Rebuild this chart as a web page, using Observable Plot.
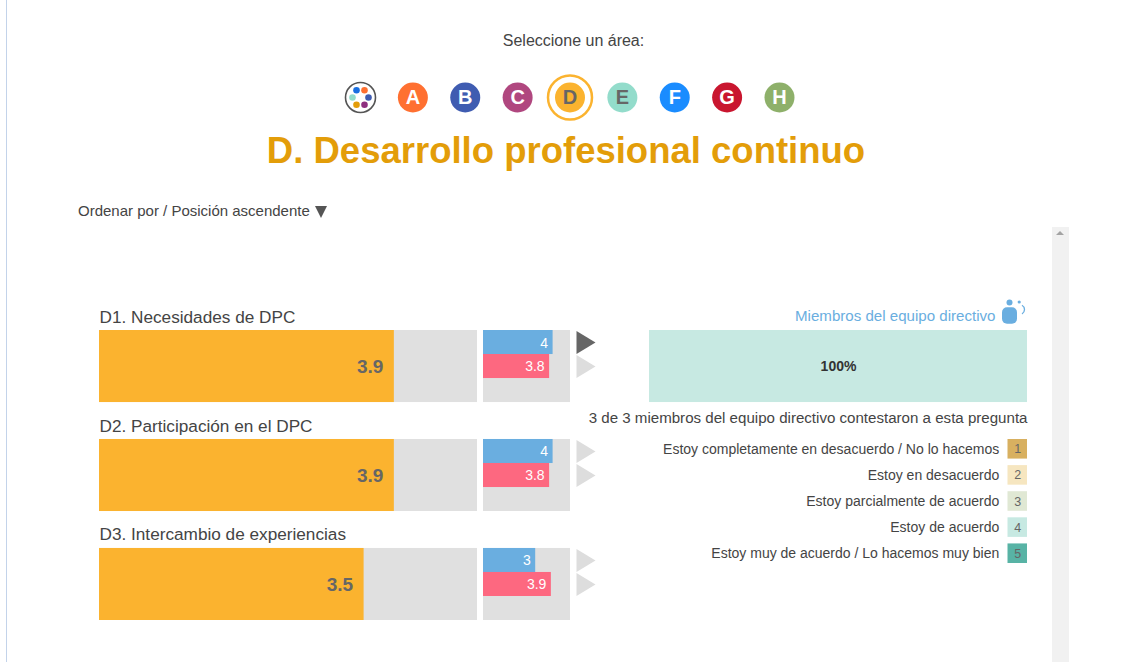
<!DOCTYPE html>
<html lang="es">
<head>
<meta charset="utf-8">
<script src="https://cdn.jsdelivr.net/npm/d3@7"></script>
<script src="https://cdn.jsdelivr.net/npm/@observablehq/plot@0.6"></script>
<style>
html,body{margin:0;padding:0;background:#fff;width:1130px;height:662px;overflow:hidden;font-family:"Liberation Sans",Arial,sans-serif;color:#444}
.abs{position:absolute;white-space:nowrap}
svg{position:absolute;overflow:visible}
</style>
</head>
<body>
<div class="abs" style="left:6px;top:0;width:1px;height:662px;background:#c3d3ea"></div>
<div class="abs" style="left:1052px;top:227px;width:17px;height:435px;background:#f1f1f1"></div>
<div class="abs" style="left:1056px;top:231px;width:0;height:0;border-left:4px solid transparent;border-right:4px solid transparent;border-bottom:4px solid #a3a3a3"></div>
<div class="abs" id="prompt" style="left:0;width:1147px;text-align:center;top:32px;font-size:16px;line-height:18px">Seleccione un área:</div>
<div class="abs" id="title" style="left:0;width:1132px;text-align:center;top:129px;font-size:36.5px;line-height:44px;font-weight:bold;color:#e39d09">D. Desarrollo profesional continuo</div>
<div class="abs" id="sort" style="left:78px;top:202px;font-size:15px;line-height:17px">Ordenar por / Posición ascendente</div>
<div class="abs" style="left:314.5px;top:205.5px;width:0;height:0;border-left:6.5px solid transparent;border-right:6.5px solid transparent;border-top:12px solid #555"></div>
<div id="root"></div>
<script>
const areas = ["all", "A", "B", "C", "D", "E", "F", "G", "H"];
const areaColors = ["#ffffff", "#ff7031", "#3f5cb1", "#b0477f", "#fbb32f", "#93dccb", "#1a8cff", "#c9162f", "#8eb06a"];
const areaInk = ["#ffffff", "#ffffff", "#ffffff", "#ffffff", "#666666", "#666666", "#ffffff", "#ffffff", "#ffffff"];
const selectedArea = "D";
const rows = ["D1. Necesidades de DPC", "D2. Participación en el DPC", "D3. Intercambio de experiencias"];
const schoolScores = [3.9, 3.9, 3.5];
const managerScores = [4, 4, 3];
const otherScores = [3.8, 3.8, 3.9];
const highlighted = [true, false, false];
const shareRow = ["D1. Necesidades de DPC"];
const shareValues = [100];
const levels = [1, 2, 3, 4, 5];
const levelLabels = [
  "Estoy completamente en desacuerdo / No lo hacemos",
  "Estoy en desacuerdo",
  "Estoy parcialmente de acuerdo",
  "Estoy de acuerdo",
  "Estoy muy de acuerdo / Lo hacemos muy bien"
];
const levelColors = ["#d8b060", "#f6e6c0", "#e0e8d4", "#c7e9e2", "#58b3a5"];
const palette = ["#1a6fe0", "#ff7031", "#3f5cb1", "#8e2f80", "#e39d09", "#93dccb"];

const font = '"Liberation Sans", Arial, sans-serif';
const root = document.getElementById("root");
function place(plot, left, top) {
  plot.style.left = left + "px";
  plot.style.top = top + "px";
  root.appendChild(plot);
}
const base = {
  marginTop: 0, marginRight: 0, marginBottom: 0, marginLeft: 0,
  style: {background: "transparent", fontFamily: font, overflow: "visible"}
};
const rowY = {type: "band", domain: rows, range: [30, 320], paddingInner: 0.339, paddingOuter: 0, round: false, axis: null};
const triangle = {draw(ctx) { ctx.moveTo(-9.5, -11.5); ctx.lineTo(9.5, 0); ctx.lineTo(-9.5, 11.5); ctx.closePath(); }};
const bodyShape = {draw(ctx) {
  const w = 7.5, h = 8.2, r = 5;
  ctx.moveTo(-w + r, -h);
  ctx.arcTo(w, -h, w, h, r);
  ctx.arcTo(w, h, -w, h, r);
  ctx.arcTo(-w, h, -w, -h, r);
  ctx.arcTo(-w, -h, w, -h, r);
  ctx.closePath();
}};
const armShape = {draw(ctx) { ctx.arc(0, 0, 5, -Math.PI / 3, Math.PI / 3); }};

// area selector
const areaData = areas.map((a, i) => ({a, color: areaColors[i], ink: areaInk[i]}));
const hexOffsets = [[-4, -7.3], [4, -7.3], [8, 0], [4, 7.3], [-4, 7.3], [-8, 0]];
place(Plot.plot({
  ...base, width: 470, height: 56,
  x: {type: "point", domain: areas, range: [16, 435], padding: 0, round: false, axis: null},
  y: {type: "point", domain: [0], range: [28, 28], axis: null},
  marks: [
    Plot.dot(areaData.filter(d => d.a === selectedArea), {x: "a", y: () => 0, r: 22, fill: "none", stroke: "#fbb32f", strokeWidth: 2.5}),
    Plot.dot(areaData, {x: "a", y: () => 0, r: 15, fill: "color", stroke: d => d.a === "all" ? "#555" : "none", strokeWidth: 1.6}),
    ...palette.map((c, i) => Plot.dot(["all"], {x: d => d, y: () => 0, r: 3.3, fill: c, dx: hexOffsets[i][0], dy: hexOffsets[i][1]})),
    Plot.text(areaData.filter(d => d.a !== "all"), {x: "a", y: () => 0, text: "a", fill: "ink", fontSize: 20, fontWeight: "bold", fontFamily: font})
  ]
}), 343.5, 69);

// overall score bars
place(Plot.plot({
  ...base, width: 378, height: 325,
  x: {domain: [0, 5], range: [0, 378], axis: null},
  y: rowY,
  marks: [
    Plot.barX(rows, {x1: () => 0, x2: () => 5, y: d => d, fill: "#e0e0e0"}),
    Plot.barX(rows, {x1: () => 0, x2: (d, i) => schoolScores[i], y: d => d, fill: "#fbb32f"}),
    Plot.text(rows, {x: (d, i) => schoolScores[i], y: d => d, text: (d, i) => schoolScores[i].toFixed(1), textAnchor: "end", dx: -11, fill: "#666", fontSize: 19, fontWeight: "bold", fontFamily: font}),
    Plot.text(rows, {x: () => 0, y: d => d, text: d => d, textAnchor: "start", dy: -49.5, fill: "#444", fontSize: 17.2, fontFamily: font})
  ]
}), 99, 300);

// comparison bars with markers
place(Plot.plot({
  ...base, width: 87, height: 325,
  x: {domain: [0, 5], range: [0, 87], axis: null},
  y: rowY,
  marks: [
    Plot.barX(rows, {x1: () => 0, x2: () => 5, y: d => d, fill: "#e0e0e0"}),
    Plot.barX(rows, {x1: () => 0, x2: (d, i) => managerScores[i], y: d => d, fill: "#6aaee0", insetBottom: 48}),
    Plot.barX(rows, {x1: () => 0, x2: (d, i) => otherScores[i], y: d => d, fill: "#fd6880", insetTop: 24, insetBottom: 24}),
    Plot.text(rows, {x: (d, i) => managerScores[i], y: d => d, text: (d, i) => String(managerScores[i]), textAnchor: "end", dx: -5, dy: -23.5, fill: "#fff", fontSize: 14, fontFamily: font}),
    Plot.text(rows, {x: (d, i) => otherScores[i], y: d => d, text: (d, i) => String(otherScores[i]), textAnchor: "end", dx: -5, fill: "#fff", fontSize: 14, fontFamily: font}),
    Plot.dot(rows, {x: () => 5, y: d => d, dx: 15.5, dy: -24, symbol: triangle, r: 5, fill: (d, i) => highlighted[i] ? "#666666" : "#dddddd"}),
    Plot.dot(rows, {x: () => 5, y: d => d, dx: 15.5, symbol: triangle, r: 5, fill: "#dddddd"})
  ]
}), 483, 300);

// response share
place(Plot.plot({
  ...base, width: 378, height: 325,
  x: {domain: [0, 100], range: [0, 378], axis: null},
  y: rowY,
  marks: [
    Plot.barX(shareRow, {x1: () => 0, x2: (d, i) => shareValues[i], y: d => d, fill: levelColors[3]}),
    Plot.text(shareRow, {x: (d, i) => shareValues[i] / 2, y: d => d, text: (d, i) => shareValues[i] + "%", fill: "#333", fontSize: 14, fontWeight: "bold", fontFamily: font}),
    Plot.text(shareRow, {x: () => 100, y: d => d, text: () => "Miembros del equipo directivo", textAnchor: "end", dx: -32, dy: -50, fill: "#6aaee0", fontSize: 15.1, fontFamily: font}),
    Plot.text(shareRow, {x: () => 100, y: d => d, text: () => "3 de 3 miembros del equipo directivo contestaron a esta pregunta", textAnchor: "end", dy: 52, fill: "#444", fontSize: 15.1, fontFamily: font}),
    Plot.dot(shareRow, {x: () => 100, y: d => d, dx: -18, dy: -64, r: 3, fill: "#6aaee0"}),
    Plot.dot(shareRow, {x: () => 100, y: d => d, dx: -8.3, dy: -64.5, r: 1.6, fill: "#6aaee0"}),
    Plot.dot(shareRow, {x: () => 100, y: d => d, dx: -18, dy: -51, symbol: bodyShape, r: 5, fill: "#6aaee0"}),
    Plot.dot(shareRow, {x: () => 100, y: d => d, dx: -8, dy: -57, symbol: armShape, r: 5, fill: "none", stroke: "#6aaee0", strokeWidth: 1.3})
  ]
}), 649, 300);

// level legend
const legendData = levels.map((level, i) => ({level, label: levelLabels[i]}));
place(Plot.plot({
  ...base, width: 370, height: 124,
  x: {type: "band", domain: ["swatch"], range: [350.5, 370], padding: 0, round: false, axis: null},
  y: {type: "band", domain: levels, range: [0, 124], paddingInner: 0.25, paddingOuter: 0, round: false, axis: null},
  color: {type: "ordinal", domain: levels, range: levelColors},
  marks: [
    Plot.cell(legendData, {x: () => "swatch", y: "level", fill: "level"}),
    Plot.text(legendData, {x: () => "swatch", y: "level", text: "level", fill: "#666", fontSize: 12.5, fontFamily: font}),
    Plot.text(legendData, {x: () => "swatch", y: "level", text: "label", textAnchor: "end", dx: -18.5, fill: "#444", fontSize: 14, fontFamily: font})
  ]
}), 657, 439);
</script>
</body>
</html>
